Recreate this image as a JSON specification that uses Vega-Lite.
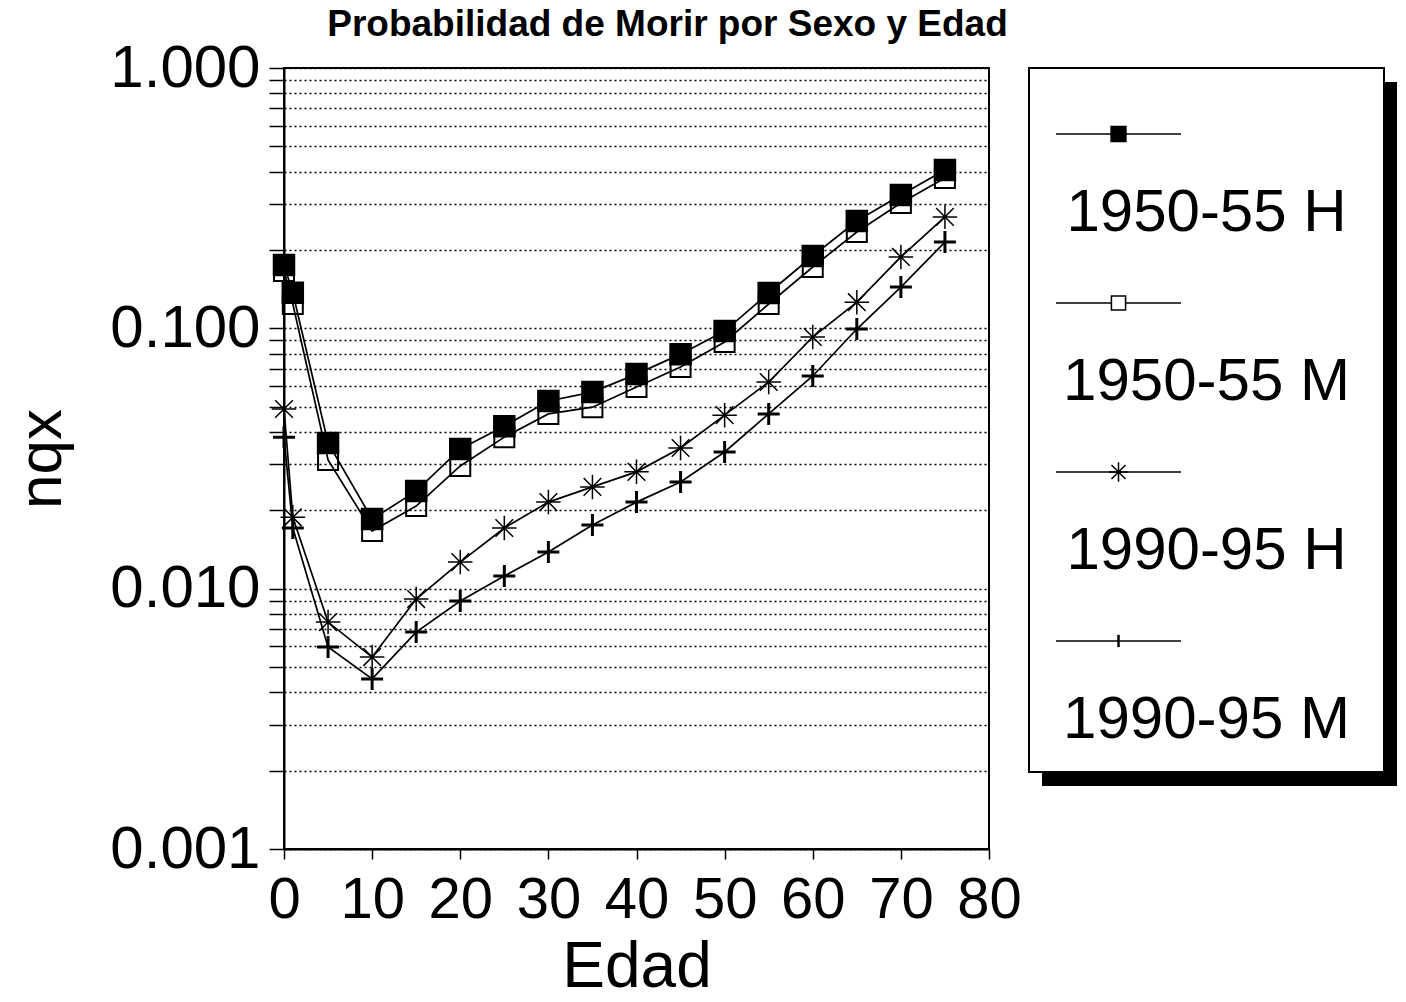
{
  "$schema": "https://vega.github.io/schema/vega-lite/v6.json",
  "padding": {"left": 9, "top": 5, "right": 5, "bottom": 5},
  "background": "white",
  "config": {
    "font": "Liberation Sans",
    "view": {"stroke": "black", "strokeWidth": 2},
    "axis": {"labelColor": "black", "titleColor": "black", "domainColor": "black", "tickColor": "black", "titleFontWeight": "normal", "labelFont": "Liberation Sans", "titleFont": "Liberation Sans"}
  },
  "datasets": {
    "qx": [
      {"serie": "1950-55 M", "edad": 0, "nqx": 0.166},
      {"serie": "1950-55 M", "edad": 1, "nqx": 0.124},
      {"serie": "1950-55 M", "edad": 5, "nqx": 0.0312},
      {"serie": "1950-55 M", "edad": 10, "nqx": 0.01665},
      {"serie": "1950-55 M", "edad": 15, "nqx": 0.02077},
      {"serie": "1950-55 M", "edad": 20, "nqx": 0.0296},
      {"serie": "1950-55 M", "edad": 25, "nqx": 0.0382},
      {"serie": "1950-55 M", "edad": 30, "nqx": 0.0469},
      {"serie": "1950-55 M", "edad": 35, "nqx": 0.0498},
      {"serie": "1950-55 M", "edad": 40, "nqx": 0.0595},
      {"serie": "1950-55 M", "edad": 45, "nqx": 0.071},
      {"serie": "1950-55 M", "edad": 50, "nqx": 0.0886},
      {"serie": "1950-55 M", "edad": 55, "nqx": 0.124},
      {"serie": "1950-55 M", "edad": 60, "nqx": 0.172},
      {"serie": "1950-55 M", "edad": 65, "nqx": 0.2344},
      {"serie": "1950-55 M", "edad": 70, "nqx": 0.303},
      {"serie": "1950-55 M", "edad": 75, "nqx": 0.378},
      {"serie": "1950-55 H", "edad": 0, "nqx": 0.175},
      {"serie": "1950-55 H", "edad": 1, "nqx": 0.137},
      {"serie": "1950-55 H", "edad": 5, "nqx": 0.0363},
      {"serie": "1950-55 H", "edad": 10, "nqx": 0.0185},
      {"serie": "1950-55 H", "edad": 15, "nqx": 0.0237},
      {"serie": "1950-55 H", "edad": 20, "nqx": 0.0344},
      {"serie": "1950-55 H", "edad": 25, "nqx": 0.0421},
      {"serie": "1950-55 H", "edad": 30, "nqx": 0.0526},
      {"serie": "1950-55 H", "edad": 35, "nqx": 0.0569},
      {"serie": "1950-55 H", "edad": 40, "nqx": 0.0667},
      {"serie": "1950-55 H", "edad": 45, "nqx": 0.0796},
      {"serie": "1950-55 H", "edad": 50, "nqx": 0.0976},
      {"serie": "1950-55 H", "edad": 55, "nqx": 0.1367},
      {"serie": "1950-55 H", "edad": 60, "nqx": 0.1896},
      {"serie": "1950-55 H", "edad": 65, "nqx": 0.2584},
      {"serie": "1950-55 H", "edad": 70, "nqx": 0.325},
      {"serie": "1950-55 H", "edad": 75, "nqx": 0.4056},
      {"serie": "1990-95 H", "edad": 0, "nqx": 0.049},
      {"serie": "1990-95 H", "edad": 1, "nqx": 0.0188},
      {"serie": "1990-95 H", "edad": 5, "nqx": 0.00744},
      {"serie": "1990-95 H", "edad": 10, "nqx": 0.00546},
      {"serie": "1990-95 H", "edad": 15, "nqx": 0.00912},
      {"serie": "1990-95 H", "edad": 20, "nqx": 0.01265},
      {"serie": "1990-95 H", "edad": 25, "nqx": 0.0171},
      {"serie": "1990-95 H", "edad": 30, "nqx": 0.0215},
      {"serie": "1990-95 H", "edad": 35, "nqx": 0.0246},
      {"serie": "1990-95 H", "edad": 40, "nqx": 0.0281},
      {"serie": "1990-95 H", "edad": 45, "nqx": 0.0347},
      {"serie": "1990-95 H", "edad": 50, "nqx": 0.0464},
      {"serie": "1990-95 H", "edad": 55, "nqx": 0.0622},
      {"serie": "1990-95 H", "edad": 60, "nqx": 0.0926},
      {"serie": "1990-95 H", "edad": 65, "nqx": 0.126},
      {"serie": "1990-95 H", "edad": 70, "nqx": 0.188},
      {"serie": "1990-95 H", "edad": 75, "nqx": 0.268},
      {"serie": "1990-95 M", "edad": 0, "nqx": 0.0382},
      {"serie": "1990-95 M", "edad": 1, "nqx": 0.0171},
      {"serie": "1990-95 M", "edad": 5, "nqx": 0.00597},
      {"serie": "1990-95 M", "edad": 10, "nqx": 0.0045},
      {"serie": "1990-95 M", "edad": 15, "nqx": 0.00681},
      {"serie": "1990-95 M", "edad": 20, "nqx": 0.00896},
      {"serie": "1990-95 M", "edad": 25, "nqx": 0.01118},
      {"serie": "1990-95 M", "edad": 30, "nqx": 0.01382},
      {"serie": "1990-95 M", "edad": 35, "nqx": 0.01755},
      {"serie": "1990-95 M", "edad": 40, "nqx": 0.0215},
      {"serie": "1990-95 M", "edad": 45, "nqx": 0.0257},
      {"serie": "1990-95 M", "edad": 50, "nqx": 0.0335},
      {"serie": "1990-95 M", "edad": 55, "nqx": 0.0469},
      {"serie": "1990-95 M", "edad": 60, "nqx": 0.0656},
      {"serie": "1990-95 M", "edad": 65, "nqx": 0.0994},
      {"serie": "1990-95 M", "edad": 70, "nqx": 0.144},
      {"serie": "1990-95 M", "edad": 75, "nqx": 0.2145}
    ],
    "leyenda": [
      {"serie": "1950-55 H"},
      {"serie": "1950-55 M"},
      {"serie": "1990-95 H"},
      {"serie": "1990-95 M"}
    ]
  },
  "hconcat": [
    {
      "title": {"text": "Probabilidad de Morir por Sexo y Edad", "fontSize": 37, "fontWeight": "bold", "font": "Liberation Sans", "anchor": "middle", "frame": "group", "dx": 31, "dy": 8, "offset": 2, "color": "black"},
      "width": 705,
      "height": 781,
      "data": {"name": "qx"},
      "encoding": {
        "x": {
          "field": "edad", "type": "quantitative",
          "scale": {"domain": [0, 80], "nice": false, "zero": false},
          "axis": {"title": "Edad", "values": [0, 10, 20, 30, 40, 50, 60, 70, 80], "grid": false, "labelFlush": false, "labelFontSize": 58, "tickSize": 10, "tickWidth": 1.5, "domainWidth": 2, "labelPadding": 12, "titleFontSize": 64, "titlePadding": 6}
        },
        "y": {
          "field": "nqx", "type": "quantitative",
          "scale": {"type": "log", "domain": [0.001, 1], "nice": false},
          "axis": {
            "title": "nqx",
            "values": [0.001, 0.002, 0.003, 0.004, 0.005, 0.006, 0.007, 0.008, 0.009, 0.01, 0.02, 0.03, 0.04, 0.05, 0.06, 0.07, 0.08, 0.09, 0.1, 0.2, 0.3, 0.4, 0.5, 0.6, 0.7, 0.8, 0.9, 1],
            "labelExpr": "(datum.value == 0.001 || datum.value == 0.01 || datum.value == 0.1 || datum.value == 1) ? format(datum.value, '.3f') : ''",
            "labelOverlap": false,
            "labelFontSize": 60,
            "labelPadding": 9,
            "tickSize": 15,
            "tickWidth": 1.5,
            "domainWidth": 2,
            "grid": true,
            "gridColor": "black",
            "gridDash": [2, 3],
            "gridWidth": 1.5,
            "gridOpacity": 1,
            "titleFontSize": 62,
            "titlePadding": 36
          }
        }
      },
      "layer": [
        {
          "mark": {"type": "line", "stroke": "black", "strokeWidth": 1.7},
          "encoding": {"detail": {"field": "serie", "type": "nominal"}}
        },
        {
          "mark": {"type": "point", "opacity": 1, "stroke": "black"},
          "encoding": {
            "shape": {"field": "serie", "type": "nominal", "scale": {"domain": ["1950-55 H", "1950-55 M", "1990-95 H", "1990-95 M"], "range": ["square", "square", "M-1,0H1M0,-1V1M-0.72,-0.72L0.72,0.72M-0.72,0.72L0.72,-0.72", "M-1,0H1M0,-1V1"]}, "legend": null},
            "fill": {"field": "serie", "type": "nominal", "scale": {"domain": ["1950-55 H", "1950-55 M", "1990-95 H", "1990-95 M"], "range": ["black", "transparent", "transparent", "transparent"]}, "legend": null},
            "size": {"field": "serie", "type": "nominal", "scale": {"type": "ordinal", "domain": ["1950-55 H", "1950-55 M", "1990-95 H", "1990-95 M"], "range": [441, 400, 600, 484]}, "legend": null},
            "strokeWidth": {"field": "serie", "type": "nominal", "scale": {"type": "ordinal", "domain": ["1950-55 H", "1950-55 M", "1990-95 H", "1990-95 M"], "range": [1.5, 2, 1.5, 3]}, "legend": null}
          }
        }
      ]
    },
    {
      "width": 355,
      "height": 704,
      "view": {"stroke": null},
      "data": {"name": "leyenda"},
      "resolve": {"scale": {"x": "independent", "y": "independent"}},
      "layer": [
        {
          "data": {"values": [{"caja": "sombra"}]},
          "mark": {"type": "rect", "fill": "black", "xOffset": 13, "x2Offset": 13, "yOffset": 14, "y2Offset": 14},
          "encoding": {
            "x": {"datum": 0, "type": "quantitative", "scale": {"domain": [0, 1], "nice": false, "zero": false}, "axis": null},
            "x2": {"datum": 1},
            "y": {"datum": 1, "type": "quantitative", "scale": {"domain": [0, 1], "nice": false, "zero": false}, "axis": null},
            "y2": {"datum": 0}
          }
        },
        {
          "data": {"values": [{"caja": "marco"}]},
          "mark": {"type": "rect", "fill": "white", "stroke": "black", "strokeWidth": 2},
          "encoding": {
            "x": {"datum": 0, "type": "quantitative", "scale": {"domain": [0, 1], "nice": false, "zero": false}, "axis": null},
            "x2": {"datum": 1},
            "y": {"datum": 1, "type": "quantitative", "scale": {"domain": [0, 1], "nice": false, "zero": false}, "axis": null},
            "y2": {"datum": 0}
          }
        },
        {
          "layer": [
            {
              "mark": {"type": "point", "shape": "M-1,0H1", "size": 15625, "stroke": "black", "strokeWidth": 1.5, "xOffset": -88, "opacity": 1},
              "encoding": {
                "y": {"field": "serie", "type": "nominal", "scale": {"type": "point", "padding": 0.583, "align": 0.335}, "axis": null}
              }
            },
            {
              "mark": {"type": "point", "opacity": 1, "stroke": "black", "xOffset": -88},
              "encoding": {
                "y": {"field": "serie", "type": "nominal", "scale": {"type": "point", "padding": 0.583, "align": 0.335}, "axis": null},
                "shape": {"field": "serie", "type": "nominal", "scale": {"domain": ["1950-55 H", "1950-55 M", "1990-95 H", "1990-95 M"], "range": ["square", "square", "M-1,0H1M0,-1V1M-0.72,-0.72L0.72,0.72M-0.72,0.72L0.72,-0.72", "M0,-1V1"]}, "legend": null},
                "fill": {"field": "serie", "type": "nominal", "scale": {"domain": ["1950-55 H", "1950-55 M", "1990-95 H", "1990-95 M"], "range": ["black", "white", "transparent", "transparent"]}, "legend": null},
                "size": {"field": "serie", "type": "nominal", "scale": {"type": "ordinal", "domain": ["1950-55 H", "1950-55 M", "1990-95 H", "1990-95 M"], "range": [220, 200, 380, 150]}, "legend": null},
                "strokeWidth": {"field": "serie", "type": "nominal", "scale": {"type": "ordinal", "domain": ["1950-55 H", "1950-55 M", "1990-95 H", "1990-95 M"], "range": [1.5, 1.5, 1.5, 2.5]}, "legend": null}
              }
            },
            {
              "mark": {"type": "text", "fontSize": 60, "font": "Liberation Sans", "yOffset": 79, "align": "center", "baseline": "middle", "color": "black"},
              "encoding": {
                "y": {"field": "serie", "type": "nominal", "scale": {"type": "point", "padding": 0.583, "align": 0.335}, "axis": null},
                "text": {"field": "serie", "type": "nominal"}
              }
            }
          ]
        }
      ]
    }
  ],
  "spacing": 40,
  "bounds": "flush",
  "resolve": {"scale": {"x": "independent", "y": "independent", "shape": "independent", "fill": "independent", "size": "independent", "strokeWidth": "independent"}}
}
